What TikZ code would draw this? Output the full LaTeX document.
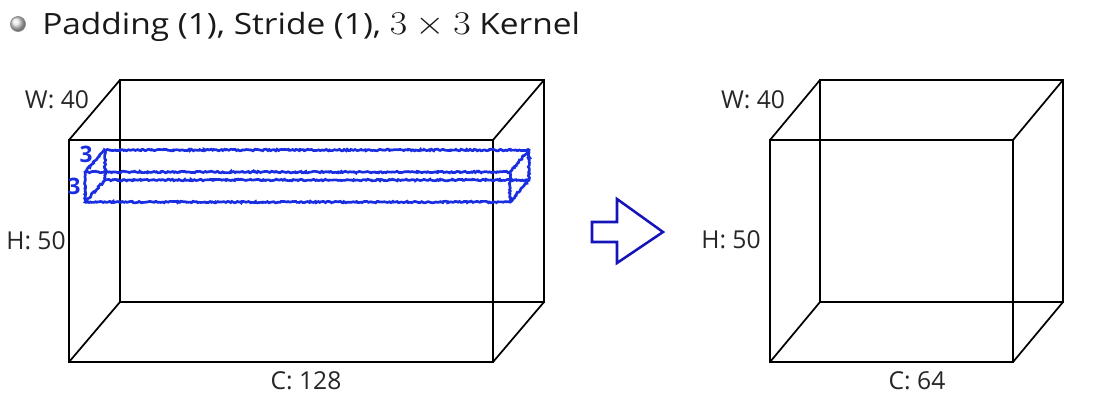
\documentclass[tikz,border=0pt]{standalone}
\usepackage{fontspec}
\usepackage{graphicx}
\setmainfont{Open Sans}
\usetikzlibrary{decorations.pathmorphing,shadings}
\definecolor{kblue}{RGB}{25,45,225}
\definecolor{ablue}{RGB}{20,20,185}
\tikzset{
  edge/.style={line width=1.3pt,black,line join=miter},
  kern/.style={kblue,line width=2pt,decorate,decoration={random steps,segment length=1.1pt,amplitude=0.6pt}},
  lbl/.style={font=\fontsize{18.5}{20}\selectfont,text=black!85,inner sep=0pt},
  klbl/.style={font=\fontsize{17}{18}\selectfont\bfseries,text=kblue,inner sep=0pt},
  barrow/.style={ablue,line width=1.9pt,line join=miter}
}
\begin{document}
\begin{tikzpicture}[x=0.75pt,y=-0.75pt]
\useasboundingbox (0,0) rectangle (1112,408);
% title
\shade[ball color=black!10,draw=black!45,line width=0.6pt] (18,24) circle (7.5);
\node[anchor=base west,inner sep=0pt,font=\fontsize{22}{24}\selectfont,text=black!90] (title) at (42,34)
  {\scalebox{1.14}[1]{Padding (1), Stride (1), {\fontsize{23}{25}\selectfont$3\times 3$} Kernel}};
% left cuboid
\coordinate (LFtl) at (69,140); \coordinate (LFtr) at (493,140);
\coordinate (LFbl) at (69,362); \coordinate (LFbr) at (493,362);
\coordinate (LBtl) at (120,80); \coordinate (LBtr) at (544,80);
\coordinate (LBbl) at (120,302); \coordinate (LBbr) at (544,302);
\draw[edge] (LFtl) rectangle (LFbr);
\draw[edge] (LBtl) rectangle (LBbr);
\draw[edge] (LFtl) -- (LBtl) (LFtr) -- (LBtr) (LFbl) -- (LBbl) (LFbr) -- (LBbr);
% kernel
\coordinate (KFtl) at (85,172); \coordinate (KFtr) at (510,172);
\coordinate (KFbl) at (85,202); \coordinate (KFbr) at (510,202);
\coordinate (KBtl) at (105,150); \coordinate (KBtr) at (529,150);
\coordinate (KBbl) at (105,180); \coordinate (KBbr) at (529,180);
\draw[kern] (KFtl) -- (KFtr) -- (KFbr) -- (KFbl) -- cycle;
\draw[kern] (KBtl) -- (KBtr) -- (KBbr) -- (KBbl) -- cycle;
\draw[kern] (KFtl) -- (KBtl);
\draw[kern] (KFbl) -- (KBbl);
\draw[kern] (KFtr) -- (KBtr);
\draw[kern] (KFbr) -- (KBbr);
\node[klbl] (k1) at (86,154) {3};
\node[klbl] (k2) at (74,186) {3};
% left labels
\node[lbl] (lw) at (57,100) {W: 40};
\node[lbl] (lh) at (36,241) {H: 50};
\node[lbl] (lc) at (306,381) {C: 128};
% arrow
\draw[barrow] (592,222) -- (617,222) -- (617,199) -- (663,232) -- (617,263) -- (617,242) -- (592,242) -- cycle;
% right cuboid
\coordinate (RFtl) at (770,140); \coordinate (RFtr) at (1013,140);
\coordinate (RFbl) at (770,362); \coordinate (RFbr) at (1013,362);
\coordinate (RBtl) at (820,80); \coordinate (RBtr) at (1063,80);
\coordinate (RBbl) at (820,302); \coordinate (RBbr) at (1063,302);
\draw[edge] (RFtl) rectangle (RFbr);
\draw[edge] (RBtl) rectangle (RBbr);
\draw[edge] (RFtl) -- (RBtl) (RFtr) -- (RBtr) (RFbl) -- (RBbl) (RFbr) -- (RBbr);
\node[lbl] (rw) at (753,100) {W: 40};
\node[lbl] (rh) at (731,240) {H: 50};
\node[lbl] (rc) at (917,381) {C: 64};
\end{tikzpicture}
\end{document}
